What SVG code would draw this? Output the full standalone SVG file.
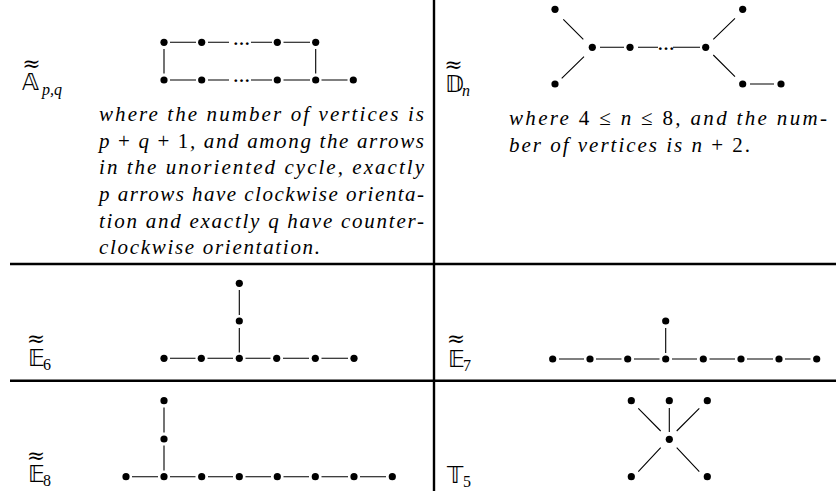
<svg xmlns="http://www.w3.org/2000/svg" width="836" height="491" viewBox="0 0 836 491">
<style>
.e{stroke:#000;stroke-width:1.1;fill:none}
.n{fill:#000}
.rule{stroke:#000;stroke-width:2.4;fill:none}
.m{font-style:normal}
</style>
<rect width="836" height="491" fill="#fff"/>
<g id="table">
<line class="rule" x1="434" y1="0" x2="434" y2="491"/>
<line class="rule" x1="10" y1="264" x2="836" y2="264"/>
<line class="rule" x1="10" y1="380.7" x2="836" y2="380.7"/>
</g>
<g id="connectors">
<path class="e" d="M170 42.3H196M208 42.3H229M251 42.3H272M283.5 42.3H310M170 80H196M208 80H229M251 80H272M283.5 80H310M321.5 80H347.5M164 49V73.5M315.7 49V73.5"/>
<path class="e" d="M563.3 19.3L583.3 39.3M561.7 78.3L584 56.7M600 47.3H624M638 47.3H658M673 47.3H700M713.3 39.3L735 18.3M713.3 55L735 76.7M750 84H774"/>
<path class="e" d="M239.3 290V315M239.3 328V352.5M170 358.3H195.5M207.5 358.3H233M245.5 358.3H270.5M283 358.3H309M321.5 358.3H348"/>
<path class="e" d="M665.7 328V353M559 359H584M596 359H621.5M634 359H659.5M672 359H697M709.5 359H735M747 359H773M785 359H810.5"/>
<path class="e" d="M164 407.5V432.5M164 445.5V470.5M132 476.7H158M170 476.7H195.5M208 476.7H233M245.5 476.7H271M283.5 476.7H309M321.5 476.7H348M360 476.7H386"/>
<path class="e" d="M669.3 408V432M638.3 408.3L660.7 431M676.7 431L699.3 408.3M638.3 471.7L660.7 447.7M676.7 447.7L699.3 471.7"/>
</g>
<g id="A" class="n">
<circle cx="164" cy="42.3" r="3.6"/><circle cx="201.7" cy="42.3" r="3.6"/><circle cx="277.3" cy="42.3" r="3.6"/><circle cx="315.7" cy="42.3" r="3.6"/>
<circle cx="164" cy="80" r="3.6"/><circle cx="201.7" cy="80" r="3.6"/><circle cx="277.3" cy="80" r="3.6"/><circle cx="315.7" cy="80" r="3.6"/><circle cx="353.3" cy="80" r="3.6"/>
<text font-family="Liberation Serif, serif" font-size="17" font-weight="bold" text-anchor="middle" x="241.5" y="44.5">…</text><text font-family="Liberation Serif, serif" font-size="17" font-weight="bold" text-anchor="middle" x="241.5" y="82.2">…</text>
</g>
<g id="D" class="n">
<circle cx="555" cy="9.3" r="3.6"/><circle cx="555" cy="84" r="3.6"/><circle cx="592.3" cy="47.3" r="3.6"/><circle cx="630" cy="47.3" r="3.6"/>
<circle cx="705.7" cy="47.3" r="3.6"/><circle cx="742.7" cy="9.3" r="3.6"/><circle cx="742.7" cy="84" r="3.6"/><circle cx="781" cy="84" r="3.6"/>
<text font-family="Liberation Serif, serif" font-size="17" font-weight="bold" text-anchor="middle" x="666" y="49.5">…</text>
</g>
<g id="E6" class="n">
<circle cx="239.3" cy="283.3" r="3.6"/><circle cx="239.3" cy="321" r="3.6"/>
<circle cx="164" cy="358.3" r="3.6"/><circle cx="201.3" cy="358.3" r="3.6"/><circle cx="239.3" cy="358.3" r="3.6"/><circle cx="276.7" cy="358.3" r="3.6"/><circle cx="315.3" cy="358.3" r="3.6"/><circle cx="354" cy="358.3" r="3.6"/>
</g>
<g id="E7" class="n">
<circle cx="665.7" cy="321" r="3.6"/>
<circle cx="552.7" cy="359" r="3.6"/><circle cx="590" cy="359" r="3.6"/><circle cx="627.7" cy="359" r="3.6"/><circle cx="665.7" cy="359" r="3.6"/><circle cx="703.3" cy="359" r="3.6"/><circle cx="741" cy="359" r="3.6"/><circle cx="779" cy="359" r="3.6"/><circle cx="816.7" cy="359" r="3.6"/>
</g>
<g id="E8" class="n">
<circle cx="164" cy="400.7" r="3.6"/><circle cx="164" cy="439" r="3.6"/>
<circle cx="126" cy="476.7" r="3.6"/><circle cx="164" cy="476.7" r="3.6"/><circle cx="201.7" cy="476.7" r="3.6"/><circle cx="239.3" cy="476.7" r="3.6"/><circle cx="277.3" cy="476.7" r="3.6"/><circle cx="315.3" cy="476.7" r="3.6"/><circle cx="354" cy="476.7" r="3.6"/><circle cx="392.3" cy="476.7" r="3.6"/>
</g>
<g id="T5" class="n">
<circle cx="631.3" cy="400.7" r="3.6"/><circle cx="669.3" cy="400.7" r="3.6"/><circle cx="707.3" cy="400.7" r="3.6"/>
<circle cx="669.3" cy="439.3" r="3.6"/>
<circle cx="631.3" cy="476.7" r="3.6"/><circle cx="707.3" cy="476.7" r="3.6"/>
</g>
<g id="labels" fill="#000">
<g font-family="DejaVu Serif, serif" font-size="22" text-anchor="middle">
<text x="31.5" y="71">≈</text><text x="453.5" y="72">≈</text><text x="36" y="346">≈</text><text x="456" y="346">≈</text><text x="36" y="463">≈</text>
</g>
<g font-family="DejaVu Sans, sans-serif" font-size="23">
<text x="22" y="90">𝔸</text><text x="445" y="92">𝔻</text><text x="28" y="366">𝔼</text><text x="448" y="367">𝔼</text><text x="28" y="482">𝔼</text><text x="447" y="483">𝕋</text>
</g>
<g font-family="Liberation Serif, serif" font-size="16">
<text x="42" y="95" font-style="italic">p,q</text><text x="462" y="96" font-style="italic">n</text>
<text x="43" y="370">6</text><text x="463" y="371">7</text><text x="43" y="486">8</text><text x="463" y="487">5</text>
</g>
</g>
<g id="textA" font-family="Liberation Serif, serif" font-style="italic" font-size="21" fill="#000">
<text x="99" y="121" textLength="325" lengthAdjust="spacing">where the number of vertices is</text>
<text x="99" y="147.7" textLength="325" lengthAdjust="spacing">p <tspan class="m">+</tspan> q <tspan class="m">+ 1</tspan>, and among the arrows</text>
<text x="99" y="174.3" textLength="325" lengthAdjust="spacing">in the unoriented cycle, exactly</text>
<text x="99" y="201" textLength="325" lengthAdjust="spacing">p arrows have clockwise orienta-</text>
<text x="99" y="227.7" textLength="325" lengthAdjust="spacing">tion and exactly q have counter-</text>
<text x="99" y="254.3" textLength="221" lengthAdjust="spacing">clockwise orientation.</text>
</g>
<g id="textD" font-family="Liberation Serif, serif" font-style="italic" font-size="21" fill="#000">
<text x="509" y="125" textLength="318" lengthAdjust="spacing">where <tspan class="m">4 ≤</tspan> n <tspan class="m">≤ 8</tspan>, and the num-</text>
<text x="509" y="151.7" textLength="241" lengthAdjust="spacing">ber of vertices is n <tspan class="m">+ 2.</tspan></text>
</g>
</svg>
